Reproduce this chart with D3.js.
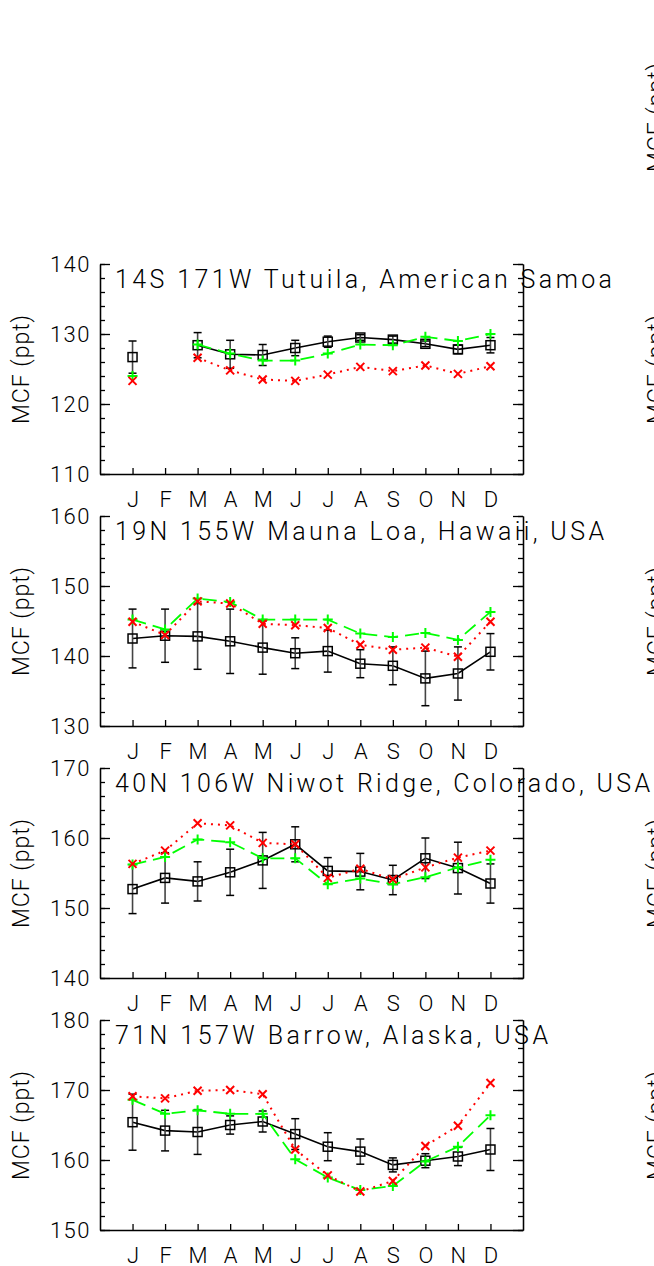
<!DOCTYPE html>
<html lang="en">
<head>
<meta charset="UTF-8">
<title>MCF seasonal cycle</title>
<script src="https://cdn.jsdelivr.net/npm/d3@7"></script>
<style>
  body { margin: 0; background: #fff; }
  text { font-family: Roboto, "Liberation Sans", sans-serif; font-weight: 300; fill: #000; }
</style>
</head>
<body>
<div id="chart"></div>
<script>
// month tick labels
var months = ["J","F","M","A","M","J","J","A","S","O","N","D"];

// station titles and y ranges
var titles = [
  "14S 171W Tutuila, American Samoa",
  "19N 155W Mauna Loa, Hawaii, USA",
  "40N 106W Niwot Ridge, Colorado, USA",
  "71N 157W Barrow, Alaska, USA"
];
var yDomains = [[110, 140], [130, 160], [140, 170], [150, 180]];

// observations (black squares) and their error bars
var obsSamoa  = [126.7, null, 128.4, 127.1, 127.0, 128.0, 128.9, 129.5, 129.2, 128.6, 127.8, 128.4];
var errSamoa  = [2.3, null, 1.8, 2.0, 1.5, 1.1, 0.8, 0.4, 0.5, 0.4, 0.6, 1.1];
var obsMauna  = [142.5, 142.9, 142.8, 142.1, 141.2, 140.4, 140.7, 138.9, 138.6, 136.8, 137.5, 140.6];
var errMauna  = [4.2, 3.8, 4.7, 4.6, 3.8, 2.2, 3.0, 2.0, 2.7, 3.9, 3.8, 2.6];
var obsNiwot  = [152.7, 154.3, 153.8, 155.1, 156.8, 159.1, 155.3, 155.2, 154.0, 157.1, 155.7, 153.5];
var errNiwot  = [3.5, 3.6, 2.8, 3.3, 4.0, 2.5, 1.9, 2.6, 2.1, 2.9, 3.7, 2.8];
var obsBarrow = [165.4, 164.2, 164.0, 165.0, 165.5, 163.7, 161.9, 161.2, 159.3, 159.9, 160.5, 161.5];
var errBarrow = [4.0, 2.9, 3.2, 1.3, 1.5, 2.2, 2.0, 1.8, 1.0, 1.0, 1.3, 3.0];

// green model run (+, long dashes)
var greenSamoa  = [124.0, null, 128.5, 127.2, 126.2, 126.2, 127.2, 128.5, 128.4, 129.6, 129.0, 130.0];
var greenMauna  = [145.2, 143.8, 148.2, 147.7, 145.2, 145.2, 145.2, 143.2, 142.7, 143.3, 142.3, 146.3];
var greenNiwot  = [156.2, 157.3, 159.8, 159.4, 157.1, 157.1, 153.4, 154.2, 153.4, 154.4, 155.8, 156.9];
var greenBarrow = [168.6, 166.6, 167.1, 166.6, 166.6, 160.1, 157.5, 155.7, 156.3, 159.8, 161.9, 166.4];

// red model run (x, dotted)
var redSamoa  = [123.3, null, 126.6, 124.8, 123.5, 123.3, 124.2, 125.3, 124.7, 125.5, 124.3, 125.4];
var redMauna  = [144.9, 143.0, 147.8, 147.5, 144.6, 144.4, 144.0, 141.6, 140.9, 141.2, 139.9, 144.9];
var redNiwot  = [156.3, 158.2, 162.1, 161.8, 159.3, 159.1, 154.3, 155.6, 154.1, 155.8, 157.2, 158.2];
var redBarrow = [169.1, 168.8, 169.9, 170.0, 169.4, 161.5, 157.8, 155.5, 157.0, 162.0, 164.9, 171.0];

var obsAll   = [obsSamoa, obsMauna, obsNiwot, obsBarrow];
var errAll   = [errSamoa, errMauna, errNiwot, errBarrow];
var greenAll = [greenSamoa, greenMauna, greenNiwot, greenBarrow];
var redAll   = [redSamoa, redMauna, redNiwot, redBarrow];

var width = 654, height = 1266;
var left = 100, right = 523, panelH = 210, step = 252, firstTop = 264;
var titleWidths = [497, 489, 535, 433];

var svg = d3.select("#chart").append("svg")
    .attr("width", width)
    .attr("height", height);

var x = d3.scaleLinear().domain([-1, 12]).range([left, right]);

// y labels of the second (off-screen) column, only their edge shows
for (var r = 0; r < 5; r++) {
    svg.append("text")
        .attr("transform", "translate(664," + (firstTop - step + r * step + panelH / 2) + ") rotate(-90)")
        .attr("text-anchor", "middle")
        .style("font-size", "23px")
        .style("letter-spacing", "1px")
        .text("MCF (ppt)");
}

titles.forEach(function(title, p) {
    var top = firstTop + p * step;
    var y = d3.scaleLinear().domain(yDomains[p]).range([top + panelH, top]);
    var g = svg.append("g");
    var lo = yDomains[p][0], hi = yDomains[p][1];

    // minor ticks left + right
    g.append("g").attr("transform", "translate(" + left + ",0)")
        .call(d3.axisLeft(y).tickValues(d3.range(lo, hi + 0.1, 2)).tickSize(-5).tickSizeOuter(0).tickFormat(""));
    g.append("g").attr("transform", "translate(" + right + ",0)")
        .call(d3.axisRight(y).tickValues(d3.range(lo, hi + 0.1, 2)).tickSize(-5).tickSizeOuter(0).tickFormat(""));
    // major ticks
    g.append("g").attr("class", "yaxis").attr("transform", "translate(" + left + ",0)")
        .call(d3.axisLeft(y).tickValues(d3.range(lo, hi + 0.1, 10)).tickSize(-10).tickSizeOuter(0).tickPadding(9).tickFormat(d3.format("d")));
    g.append("g").attr("transform", "translate(" + right + ",0)")
        .call(d3.axisRight(y).tickValues(d3.range(lo, hi + 0.1, 10)).tickSize(-10).tickSizeOuter(0).tickFormat(""));
    // month axis
    g.append("g").attr("class", "xaxis").attr("transform", "translate(0," + (top + panelH) + ")")
        .call(d3.axisBottom(x).tickValues(d3.range(0, 12)).tickSize(-6).tickSizeOuter(0).tickPadding(17)
            .tickFormat(function(d) { return months[d]; }));

    g.selectAll(".domain, .tick line").attr("stroke", "#000").attr("stroke-width", 1.3);
    g.selectAll(".yaxis text").style("font-size", "22px").attr("font-family", null).style("letter-spacing", "1.5px");
    g.selectAll(".xaxis text").style("font-size", "22px").attr("font-family", null);

    g.append("text")
        .attr("transform", "translate(29," + (top + panelH / 2) + ") rotate(-90)")
        .attr("text-anchor", "middle")
        .style("font-size", "23px")
        .style("letter-spacing", "1px")
        .text("MCF (ppt)");

    var obs = obsAll[p], err = errAll[p], green = greenAll[p], red = redAll[p];
    var pts = function(arr) { return arr.map(function(v, i) { return {i: i, v: v}; }); };
    var line = d3.line()
        .defined(function(d) { return d.v != null; })
        .x(function(d) { return x(d.i); })
        .y(function(d) { return y(d.v); });

    // observations
    var obsPts = pts(obs).filter(function(d) { return d.v != null; });
    g.append("path").datum(pts(obs)).attr("d", line)
        .attr("fill", "none").attr("stroke", "#000").attr("stroke-width", 1.6);
    g.selectAll(".ebar").data(obsPts).enter().append("line")
        .attr("x1", function(d) { return x(d.i); }).attr("x2", function(d) { return x(d.i); })
        .attr("y1", function(d) { return y(d.v - err[d.i]); })
        .attr("y2", function(d) { return y(d.v + err[d.i]); })
        .attr("stroke", "#444").attr("stroke-width", 1.6);
    [-1, 1].forEach(function(s) {
        g.selectAll(".cap").data(obsPts).enter().append("line")
            .attr("x1", function(d) { return x(d.i) - 4; }).attr("x2", function(d) { return x(d.i) + 4; })
            .attr("y1", function(d) { return y(d.v + s * err[d.i]); })
            .attr("y2", function(d) { return y(d.v + s * err[d.i]); })
            .attr("stroke", "#000").attr("stroke-width", 1.5);
    });
    g.selectAll(".sq").data(obsPts).enter().append("rect")
        .attr("x", function(d) { return x(d.i) - 4.5; })
        .attr("y", function(d) { return y(d.v) - 4.5; })
        .attr("width", 9).attr("height", 9)
        .attr("fill", "none").attr("stroke", "#000").attr("stroke-width", 1.5);

    // green run
    g.append("path").datum(pts(green)).attr("d", line)
        .attr("fill", "none").attr("stroke", "#00ff00").attr("stroke-width", 1.8)
        .attr("stroke-dasharray", "14,7");
    var gPts = pts(green).filter(function(d) { return d.v != null; });
    g.selectAll(".plus").data(gPts).enter().append("path")
        .attr("d", function(d) {
            var cx = x(d.i), cy = y(d.v);
            return "M" + (cx - 5) + "," + cy + "H" + (cx + 5) + "M" + cx + "," + (cy - 5) + "V" + (cy + 5);
        })
        .attr("stroke", "#00ff00").attr("stroke-width", 2).attr("fill", "none");

    // red run
    g.append("path").datum(pts(red)).attr("d", line)
        .attr("fill", "none").attr("stroke", "#ff0000").attr("stroke-width", 2)
        .attr("stroke-dasharray", "2,5");
    var rPts = pts(red).filter(function(d) { return d.v != null; });
    g.selectAll(".cross").data(rPts).enter().append("path")
        .attr("d", function(d) {
            var cx = x(d.i), cy = y(d.v);
            return "M" + (cx - 4) + "," + (cy - 4) + "L" + (cx + 4) + "," + (cy + 4) +
                   "M" + (cx - 4) + "," + (cy + 4) + "L" + (cx + 4) + "," + (cy - 4);
        })
        .attr("stroke", "#ff0000").attr("stroke-width", 2).attr("fill", "none");

    // station title drawn over the frame
    g.append("text")
        .attr("x", 115).attr("y", top + 24)
        .attr("textLength", titleWidths[p])
        .attr("lengthAdjust", "spacing")
        .style("font-size", "25px")
        .text(title);
});
</script>
</body>
</html>
